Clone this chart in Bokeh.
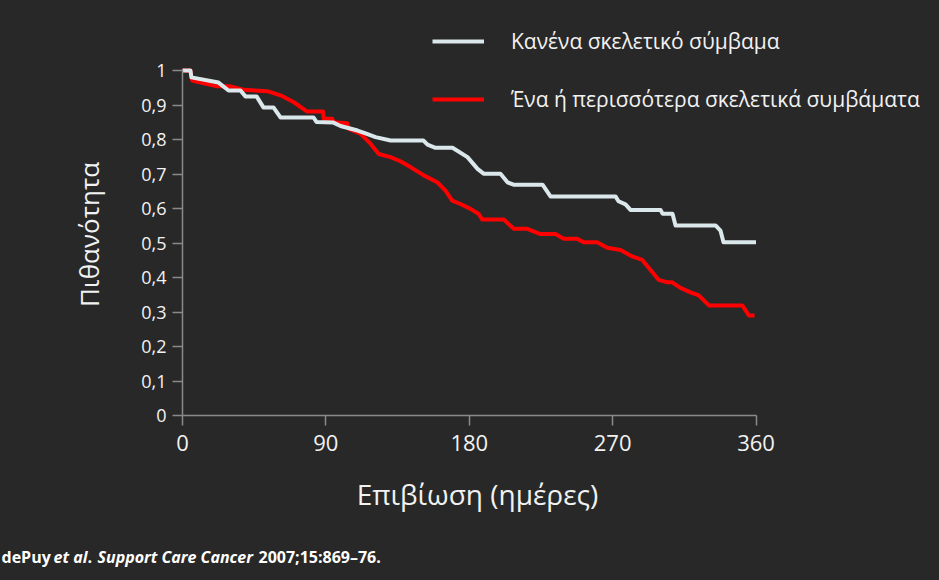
import math
from bokeh.plotting import figure
from bokeh.models import Range1d, FixedTicker, Legend, LegendItem, Label
from bokeh.embed import file_html
from bokeh.resources import INLINE

# ---- data ----
none_days = [0, 5.0, 5.6, 22.6, 28.9, 36.4, 39.5, 46.5, 50.8, 57.1,
             61.5, 82.2, 84.1, 94.8, 99.2, 109.9, 114.9, 121.2, 130.6, 151.3,
             153.8, 158.8, 169.5, 178.9, 185.2, 189.0, 199.6, 204.0, 207.8, 226.0,
             231.0, 271.8, 273.7, 278.1, 281.2, 300.1, 301.3, 307.6, 309.5, 334.6,
             337.7, 339.6, 360]
none_surv = [1.0, 1.0, 0.980, 0.965, 0.942, 0.942, 0.925, 0.925, 0.893, 0.893,
             0.864, 0.864, 0.851, 0.849, 0.839, 0.826, 0.818, 0.807, 0.797, 0.797,
             0.785, 0.776, 0.776, 0.749, 0.715, 0.701, 0.701, 0.676, 0.669, 0.669,
             0.635, 0.635, 0.621, 0.612, 0.596, 0.596, 0.585, 0.585, 0.551, 0.551,
             0.536, 0.502, 0.502]

sre_days = [0, 5.0, 6.1, 15.5, 21.8, 30.1, 38.5, 53.2, 61.5, 69.9, 78.3,
            88.3, 88.7, 94.0, 95.0, 103.4, 104.4, 111.7, 118.0, 123.2, 130.6,
            136.8, 143.1, 151.5, 159.9, 165.1, 169.3, 174.5, 180.8, 186.0, 188.1,
            201.7, 208.0, 216.4, 224.7, 234.1, 239.4, 247.8, 251.9, 260.3, 266.6,
            275.0, 282.3, 288.6, 293.8, 299.0, 304.3, 307.4, 312.6, 318.9, 324.1,
            330.4, 351.4, 355.5, 359.1]
sre_surv = [1.0, 1.0, 0.971, 0.961, 0.954, 0.954, 0.944, 0.940, 0.928, 0.908, 0.881,
            0.881, 0.860, 0.860, 0.850, 0.847, 0.831, 0.817, 0.788, 0.758, 0.749,
            0.737, 0.720, 0.696, 0.676, 0.652, 0.623, 0.613, 0.599, 0.584, 0.568,
            0.568, 0.541, 0.541, 0.526, 0.526, 0.512, 0.512, 0.502, 0.502, 0.486,
            0.480, 0.461, 0.451, 0.422, 0.393, 0.386, 0.386, 0.370, 0.357, 0.348,
            0.319, 0.319, 0.290, 0.290]

series_names = ["Κανένα σκελετικό σύμβαμα", "Ένα ή περισσότερα σκελετικά συμβάματα"]
x_ticks = [0, 90, 180, 270, 360]
y_ticks = [0, 0.1, 0.2, 0.3, 0.4, 0.5, 0.6, 0.7, 0.8, 0.9, 1.0]
y_tick_labels = ["0", "0,1", "0,2", "0,3", "0,4", "0,5", "0,6", "0,7", "0,8", "0,9", "1"]
x_title = "Επιβίωση (ημέρες)"
y_title = "Πιθανότητα"
footnote_parts = ["dePuy", "et al", ".", "Support Care Cancer", "2007;15:869–76."]
footnote_italic = [False, True, False, True, False]

# ---- style / layout ----
BG = "#282828"
AX = "#8a8a8a"
TXT = "#f2f2f2"
C_NONE = "#dbe8eb"
C_SRE = "#ff0000"
FONT = "Open Sans"
W, H = 939, 580
X0_PX, Y0_PX = 182, 415          # canvas position of the axes origin
PX_PER_DAY = 573.5 / 360
PX_PER_UNIT = 345

# the frame covers the whole canvas; axes are pinned at the origin
x_range = Range1d(-X0_PX / PX_PER_DAY, (W - X0_PX) / PX_PER_DAY)
y_range = Range1d(-(H - Y0_PX) / PX_PER_UNIT, Y0_PX / PX_PER_UNIT)

p = figure(width=W, height=H, output_backend="svg", toolbar_location=None,
           x_range=x_range, y_range=y_range, min_border=0,
           background_fill_color=BG, border_fill_color=BG, outline_line_color=None)
p.styles = {"background-color": BG}
p.grid.visible = False

r_sre = p.line(sre_days, sre_surv, line_color=C_SRE, line_width=4, line_join="round")
r_none = p.line(none_days, none_surv, line_color=C_NONE, line_width=4, line_join="round")

for ax in (p.xaxis[0], p.yaxis[0]):
    ax.fixed_location = 0
    ax.axis_line_color = AX
    ax.axis_line_width = 1.5
    ax.major_tick_line_color = AX
    ax.major_tick_line_width = 1.5
    ax.major_tick_out = 10
    ax.major_tick_in = 0
    ax.minor_tick_line_color = None
    ax.major_label_text_color = TXT
    ax.major_label_text_font = FONT

xa = p.xaxis[0]
xa.ticker = FixedTicker(ticks=x_ticks)
xa.bounds = (x_ticks[0], x_ticks[-1])
xa.major_label_text_font_size = "22px"
xa.major_label_standoff = 9

ya = p.yaxis[0]
ya.ticker = FixedTicker(ticks=y_ticks)
ya.bounds = (y_ticks[0], y_ticks[-1])
ya.major_label_overrides = {t: l for t, l in zip(y_ticks, y_tick_labels)}
ya.major_label_text_font_size = "18px"
ya.major_label_standoff = 6

# axis titles (screen position measured on the reference)
p.add_layout(Label(x=477, y=H - 493, x_units="screen", y_units="screen",
                   text=x_title, text_font=FONT, text_font_size="28px",
                   text_color=TXT, text_align="center", text_baseline="middle"))
p.add_layout(Label(x=88, y=H - 234, x_units="screen", y_units="screen",
                   text=y_title, text_font=FONT, text_font_size="26px", angle=math.pi / 2,
                   text_color=TXT, text_align="center", text_baseline="middle"))

legend = Legend(items=[LegendItem(label=series_names[0], renderers=[r_none]),
                       LegendItem(label=series_names[1], renderers=[r_sre])],
                location=(432, H - 113), orientation="vertical",
                background_fill_alpha=0, border_line_alpha=0,
                padding=0, margin=0, spacing=30,
                glyph_width=52, glyph_height=26, label_height=26,
                label_standoff=27,
                label_text_font=FONT, label_text_font_size="21px",
                label_text_color=TXT, label_text_baseline="middle")
p.add_layout(legend)

foot_x = [1, 53, 87, 97, 258]
for t, it, fx in zip(footnote_parts, footnote_italic, foot_x):
    p.add_layout(Label(x=fx, y=H - 556, x_units="screen", y_units="screen",
                       text=t, text_font=FONT, text_font_size="16px",
                       text_font_style="bold italic" if it else "bold",
                       text_color="#ffffff", text_baseline="middle"))

open("out.html", "w").write(file_html(p, INLINE))
